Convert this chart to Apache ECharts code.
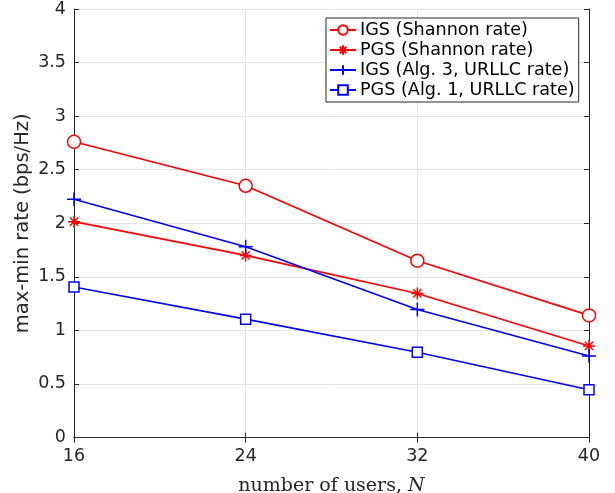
<!DOCTYPE html>
<html><head><meta charset="utf-8">
<script src="https://cdn.jsdelivr.net/npm/echarts@6/dist/echarts.min.js"></script>
<style>html,body{margin:0;padding:0;background:#fff}#c{width:615px;height:493px}</style>
</head><body><div id="c"></div>
<script>
const users = [16, 24, 32, 40];
const igsShannon = [2.76, 2.35, 1.65, 1.14];
const pgsShannon = [2.015, 1.70, 1.345, 0.855];
const igsUrllc = [2.225, 1.78, 1.195, 0.76];
const pgsUrllc = [1.405, 1.105, 0.795, 0.445];
const seriesNames = ['IGS (Shannon rate)', 'PGS (Shannon rate)', 'IGS (Alg. 3, URLLC rate)', 'PGS (Alg. 1, URLLC rate)'];
const yTicks = [0, 0.5, 1, 1.5, 2, 2.5, 3, 3.5, 4];

const plusPath = 'path://M5,0L5,10M0,5L10,5';
const starPath = 'path://M5,0L5,10M0,5L10,5M1.6,1.6L8.4,8.4M8.4,1.6L1.6,8.4';
const pair = a => users.map((u, i) => [u, a[i]]);
const font = 'DejaVu Sans';
const axisCol = '#262626';

function mk(name, data, color, symbol, size, fill) {
  return {
    name, type: 'line', data: pair(data), symbol, symbolSize: size,
    showSymbol: true, animation: false,
    lineStyle: { color, width: 1.6 },
    itemStyle: { color: fill, borderColor: color, borderWidth: 1.5 },
    z: 3
  };
}

const chart = echarts.init(document.getElementById('c'));
chart.setOption({
  backgroundColor: '#fff',
  animation: false,
  grid: { left: 74, right: 26, top: 9, bottom: 55.5, containLabel: false, outerBoundsMode: 'none' },
  legend: {
    orient: 'vertical', left: 326, top: 18,
    backgroundColor: '#fff', borderColor: '#262626', borderWidth: 1,
    padding: [2, 4, 2, 3], itemGap: 0, itemWidth: 26, itemHeight: 12,
    textStyle: { fontFamily: font, fontSize: 17.6, lineHeight: 20, color: '#000', padding: [0, 0, 0, -1] },
    data: seriesNames
  },
  xAxis: [{
    type: 'value', min: 16, max: 40, interval: 8,
    name: 'number of users, {i|N}', nameLocation: 'middle', nameGap: 39.5, nameMoveOverlap: false,
    nameTextStyle: { fontFamily: 'DejaVu Serif', fontSize: 19, color: axisCol,
      rich: { i: { fontFamily: 'DejaVu Serif', fontStyle: 'italic', fontSize: 19, color: axisCol } } },
    axisLine: { lineStyle: { color: axisCol, width: 1 } },
    axisTick: { inside: true, length: 5, lineStyle: { color: axisCol } },
    axisLabel: { fontFamily: font, fontSize: 17.5, color: axisCol, margin: 10 },
    splitLine: { show: true, lineStyle: { color: '#e3e3e3', width: 1 } }
  }, {
    type: 'value', min: 16, max: 40, interval: 8, position: 'top',
    axisLine: { lineStyle: { color: axisCol, width: 1 } },
    axisTick: { inside: true, length: 5, lineStyle: { color: axisCol } },
    axisLabel: { show: false }, splitLine: { show: false }
  }],
  yAxis: [{
    type: 'value', min: 0, max: 4, interval: 0.5,
    name: 'max-min rate (bps/Hz)', nameLocation: 'middle', nameGap: 41, nameMoveOverlap: false,
    nameTextStyle: { fontFamily: font, fontSize: 19.5, color: axisCol },
    axisLine: { show: true, lineStyle: { color: axisCol, width: 1 } },
    axisTick: { inside: true, length: 5, lineStyle: { color: axisCol } },
    axisLabel: { fontFamily: font, fontSize: 17.5, color: axisCol, margin: 8,
      formatter: v => String(yTicks.find(t => Math.abs(t - v) < 1e-9) ?? v) },
    splitLine: { show: true, lineStyle: { color: '#e3e3e3', width: 1 } }
  }, {
    type: 'value', min: 0, max: 4, interval: 0.5, position: 'right',
    axisLine: { show: true, lineStyle: { color: axisCol, width: 1 } },
    axisTick: { inside: true, length: 5, lineStyle: { color: axisCol } },
    axisLabel: { show: false }, splitLine: { show: false }
  }],
  series: [
    mk(seriesNames[0], igsShannon, '#ff0000', 'circle', 13, '#ffffff'),
    mk(seriesNames[1], pgsShannon, '#ff0000', starPath, 12, '#ff0000'),
    mk(seriesNames[2], igsUrllc, '#0000ff', plusPath, 14, '#0000ff'),
    mk(seriesNames[3], pgsUrllc, '#0000ff', 'rect', 10, '#ffffff')
  ]
});
</script></body></html>
